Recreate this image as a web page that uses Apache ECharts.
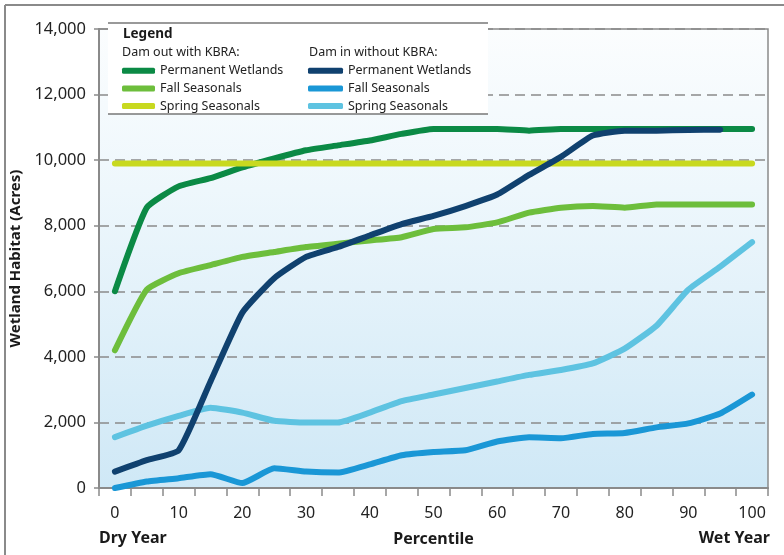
<!DOCTYPE html>
<html>
<head>
<meta charset="utf-8">
<script src="https://cdn.jsdelivr.net/npm/echarts@6/dist/echarts.min.js"></script>
<style>
html,body{margin:0;padding:0;background:#fff;}
#chart{width:784px;height:555px;}
</style>
</head>
<body>
<div id="chart"></div>
<script>
// Percentile categories (x axis)
var percentiles = ['0','5','10','15','20','25','30','35','40','45','50','55','60','65','70','75','80','85','90','95','100'];
// Dam out with KBRA
var outPermanent = [6000,8550,9200,9450,9780,10050,10300,10450,10600,10800,10950,10950,10950,10900,10950,10950,10950,10950,10950,10950,10950];
var outFall      = [4200,6050,6550,6800,7050,7200,7350,7450,7550,7650,7900,7950,8100,8400,8550,8600,8550,8650,8650,8650,8650];
var outSpring    = [9900,9900,9900,9900,9900,9900,9900,9900,9900,9900,9900,9900,9900,9900,9900,9900,9900,9900,9900,9900,9900];
// Dam in without KBRA
var inPermanent  = [500,850,1150,3250,5350,6400,7050,7350,7700,8050,8300,8600,8950,9550,10100,10750,10900,10900,10920,10930,null];
var inFall       = [0,200,300,420,150,600,500,470,720,1000,1100,1150,1420,1550,1520,1650,1680,1850,1970,2270,2850];
var inSpring     = [1550,1900,2200,2450,2300,2050,2000,2000,2300,2650,2850,3050,3250,3450,3600,3800,4250,4950,6050,6750,7500];
var yTicks = ['0','2,000','4,000','6,000','8,000','10,000','12,000','14,000'];

var legendOutNames = ['Permanent Wetlands (out)','Fall Seasonals (out)','Spring Seasonals (out)'];
var legendInNames  = ['Permanent Wetlands (in)','Fall Seasonals (in)','Spring Seasonals (in)'];

var FONT = "'Noto Sans', 'DejaVu Sans', sans-serif";
var chart = echarts.init(document.getElementById('chart'));

function lineSeries(name, data, color) {
  return {
    name: name, type: 'line', data: data, color: color,
    symbol: 'none', smooth: 0.15, connectNulls: false,
    lineStyle: {width: 6, color: color, cap: 'round', join: 'round'},
    emphasis: {disabled: true}
  };
}
var legendFmt = function(n){ return n.replace(/ \((out|in)\)$/, ''); };

chart.setOption({
  animation: false,
  backgroundColor: '#ffffff',
  textStyle: {fontFamily: FONT},
  grid: {
    left: 99, right: 16, top: 29, bottom: 67, show: true,
    borderColor: '#8a8a8a', borderWidth: 1.5,
    backgroundColor: {type: 'linear', x: 0, y: 0, x2: 0, y2: 1,
      colorStops: [{offset: 0, color: '#fbfdfe'}, {offset: 0.35, color: '#eef7fc'}, {offset: 1, color: '#cfe8f6'}]}
  },
  xAxis: {
    type: 'category', data: percentiles, boundaryGap: true,
    name: 'Percentile', nameLocation: 'middle', nameGap: 43,
    nameTextStyle: {fontSize: 16, fontWeight: 'bold', color: '#1a1a1a', fontFamily: FONT},
    axisLine: {lineStyle: {color: '#8a8a8a', width: 2}},
    axisTick: {show: true, interval: 0, length: 8, lineStyle: {color: '#8a8a8a', width: 1.5}},
    axisLabel: {interval: 1, margin: 17, fontSize: 16, color: '#222', fontFamily: "'Liberation Sans Narrow', 'Noto Sans', sans-serif"},
    splitLine: {show: false}
  },
  yAxis: {
    type: 'value', min: 0, max: 14000, interval: 2000,
    name: 'Wetland Habitat (Acres)', nameLocation: 'middle', nameGap: 74, nameRotate: 90,
    nameTextStyle: {fontSize: 15, fontWeight: 'bold', color: '#1a1a1a', fontFamily: FONT},
    axisLine: {show: true, lineStyle: {color: '#8a8a8a', width: 2}},
    axisTick: {show: true, length: 5, lineStyle: {color: '#8a8a8a', width: 1.5}},
    axisLabel: {margin: 13, fontSize: 16.5, color: '#222', fontFamily: FONT,
      formatter: function(v){ return yTicks[Math.round(v/2000)]; }},
    splitLine: {show: true, lineStyle: {color: '#8a8a8a', width: 1.5, type: [10, 6]}}
  },
  legend: [
    {data: legendOutNames, orient: 'vertical', left: 122, top: 62, padding: 0, itemGap: 0,
     itemWidth: 33, itemHeight: 6, itemTextGap: 12, icon: 'roundRect', formatter: legendFmt,
     textStyle: {fontSize: 12.5, color: '#222', lineHeight: 17.6, fontFamily: FONT}, selectedMode: false, z: 6},
    {data: legendInNames, orient: 'vertical', left: 308, top: 62, padding: 0, itemGap: 0,
     itemWidth: 35, itemHeight: 6, itemTextGap: 12, icon: 'roundRect', formatter: legendFmt,
     textStyle: {fontSize: 12.5, color: '#222', lineHeight: 17.6, fontFamily: FONT}, selectedMode: false, z: 6}
  ],
  graphic: [
    {type: 'line', z: 10, shape: {x1: 5, y1: 5, x2: 784, y2: 5}, style: {stroke: '#8a8a8a', lineWidth: 2}},
    {type: 'line', z: 10, shape: {x1: 5, y1: 5, x2: 5, y2: 555}, style: {stroke: '#8a8a8a', lineWidth: 2}},
    {type: 'rect', z: 3, shape: {x: 108, y: 23, width: 380, height: 91}, style: {fill: '#ffffff'}},
    {type: 'line', z: 4, shape: {x1: 108, y1: 23, x2: 488, y2: 23}, style: {stroke: '#777', lineWidth: 1.5}},
    {type: 'line', z: 4, shape: {x1: 108, y1: 114, x2: 488, y2: 114}, style: {stroke: '#777', lineWidth: 1.5}},
    {type: 'text', z: 5, left: 123, top: 27, style: {text: 'Legend', font: "bold 13.5px " + FONT, fill: '#1a1a1a'}},
    {type: 'text', z: 5, left: 122, top: 46, style: {text: 'Dam out with KBRA:', font: "12.5px " + FONT, fill: '#222'}},
    {type: 'text', z: 5, left: 309, top: 46, style: {text: 'Dam in without KBRA:', font: "12.5px " + FONT, fill: '#222'}},
    {type: 'text', z: 5, left: 99, top: 530, style: {text: 'Dry Year', font: "bold 16px " + FONT, fill: '#1a1a1a'}},
    {type: 'text', z: 5, right: 14, top: 530, style: {text: 'Wet Year', font: "bold 16px " + FONT, fill: '#1a1a1a'}}
  ],
  series: [
    lineSeries(legendOutNames[0], outPermanent, '#0b8a45'),
    lineSeries(legendOutNames[1], outFall, '#6dbe3c'),
    lineSeries(legendOutNames[2], outSpring, '#c8d91f'),
    lineSeries(legendInNames[2], inSpring, '#5ec3e1'),
    lineSeries(legendInNames[1], inFall, '#1a97d6'),
    lineSeries(legendInNames[0], inPermanent, '#10416f')
  ]
});
</script>
</body>
</html>
